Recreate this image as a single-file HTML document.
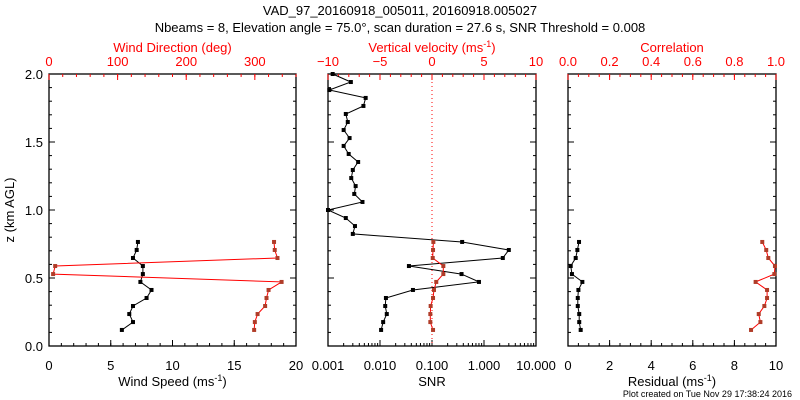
<!DOCTYPE html>
<html><head><meta charset="utf-8"><style>
body{margin:0;background:#fff;}
svg{display:block;font-family:"Liberation Sans",sans-serif;}
</style></head><body>
<svg id="c" width="800" height="400" viewBox="0 0 800 400">
<rect width="800" height="400" fill="#fff"/>
<text x="400" y="15" font-size="13" text-anchor="middle">VAD_97_20160918_005011, 20160918.005027</text>
<text x="400" y="32" font-size="13" text-anchor="middle">Nbeams = 8, Elevation angle = 75.0°, scan duration = 27.6 s, SNR Threshold = 0.008</text>
<text x="792" y="397" font-size="9" text-anchor="end">Plot created on Tue Nov 29 17:38:24 2016</text>
<g id="g"></g>
</svg>
<script>
// ---- data ----
const windHeights = [0.118,0.176,0.235,0.294,0.353,0.412,0.471,0.529,0.588,0.647,0.706,0.765];
const windSpeed = [5.9,6.8,6.5,6.8,7.9,8.3,7.4,7.6,7.6,6.8,7.1,7.2];
const windDir = [299,300,304,315,317,320,339,6,9,333,329,328];
const vertVel = [0.1,-0.16,-0.16,-0.13,0.1,0.19,0.41,1.09,1.09,0.07,0.1,0.13];
const residual = [0.61,0.54,0.54,0.47,0.47,0.5,0.69,0.19,0.13,0.37,0.45,0.53];
const correlation = [0.88,0.925,0.917,0.944,0.957,0.957,0.902,0.992,0.995,0.963,0.953,0.934];
const snrHeights = [0.118,0.176,0.235,0.294,0.353,0.412,0.471,0.529,0.588,0.647,0.706,0.765,0.824,0.882,0.941,1.0,1.059,1.118,1.176,1.235,1.294,1.353,1.412,1.471,1.529,1.588,1.647,1.706,1.765,1.824,1.882,1.941,2.0];
const snr = [0.0105,0.0115,0.0135,0.0126,0.013,0.043,0.8,0.37,0.036,2.3,3.0,0.38,0.0030,0.0033,0.0022,0.0010,0.0046,0.0032,0.0034,0.0028,0.0030,0.0038,0.0025,0.0020,0.0026,0.0020,0.0024,0.0022,0.0048,0.0053,0.00106,0.00275,0.00123];
const yTicks = [0.0,0.5,1.0,1.5,2.0];
const yTickLabels = ["0.0","0.5","1.0","1.5","2.0"];
const speedTicks = [0,5,10,15,20];
const dirTicks = [0,100,200,300];
const snrTicks = [0.001,0.01,0.1,1,10];
const snrTickLabels = ["0.001","0.010","0.100","1.000","10.000"];
const wTicks = [-10,-5,0,5,10];
const resTicks = [0,2,4,6,8,10];
const corrTicks = [0,0.2,0.4,0.6,0.8,1.0];
const corrTickLabels = ["0.0","0.2","0.4","0.6","0.8","1.0"];

const NS="http://www.w3.org/2000/svg", G=document.getElementById('g');
const Y0=346, Y1=74;
const yS = z => Y0 + (Y1-Y0)*z/2;
function el(t,a,p){const e=document.createElementNS(NS,t);for(const k in a)e.setAttribute(k,a[k]);(p||G).appendChild(e);return e;}
function lin(d0,d1,r0,r1){return v=>r0+(v-d0)/(d1-d0)*(r1-r0);}
function logS(d0,d1,r0,r1){return v=>r0+(Math.log10(v)-Math.log10(d0))/(Math.log10(d1)-Math.log10(d0))*(r1-r0);}
const RED="#ff0000", BRN="#b03c28";

function frame(x0,x1,name){
  const r=el('rect',{x:x0,y:Y1,width:x1-x0,height:Y0-Y1,fill:'none',stroke:'#000','stroke-width':1.3});
  
  
  for(let z=0;z<=2.0001;z+=0.1){
    const major=Math.abs(z*2-Math.round(z*2))<1e-6, L=major?6:3, y=yS(z);
    el('line',{x1:x0,x2:x0+L,y1:y,y2:y,stroke:'#000'});
    el('line',{x1:x1,x2:x1-L,y1:y,y2:y,stroke:'#000'});
  }
}
function xAxis(scale,ticks,labels,minors,top,color,title,name,x0,x1){
  const y=top?Y1:Y0, dir=top?1:-1;
  ticks.forEach((t,i)=>{
    el('line',{x1:scale(t),x2:scale(t),y1:y,y2:y+dir*6,stroke:color});
    const tx=el('text',{x:scale(t),y:top?66:370,'font-size':13,'text-anchor':'middle',fill:color});
    tx.textContent=labels[i];
    
    
  });
  minors.forEach(m=>{const x=scale(m); if(x>=x0-0.5&&x<=x1+0.5) el('line',{x1:x,x2:x,y1:y,y2:y+dir*3,stroke:color});});
  const t=el('text',{x:(x0+x1)/2,y:top?52:386,'font-size':13,'text-anchor':'middle',fill:color});
  t.innerHTML=title;
  
  
}
function series(xs,zs,xscale,lc,mc,name){
  const pts=xs.map((v,i)=>xscale(v).toFixed(1)+','+yS(zs[i]).toFixed(1)).join(' ');
  const pl=el('polyline',{points:pts,fill:'none',stroke:lc,'stroke-width':1});
  
  
  xs.forEach((v,i)=>{
    const r=el('rect',{x:xscale(v)-2,y:yS(zs[i])-2,width:4,height:4,fill:mc});
    
    
  });
}
function range(a,b,s){const o=[];for(let v=a;v<=b+1e-9;v+=s)o.push(+v.toFixed(4));return o;}
const sup='(ms<tspan dy="-5" font-size="9">-1</tspan><tspan dy="5">)</tspan>';

// Panel 1
const P1=[49,296];
const xSpeed=lin(0,20,P1[0],P1[1]), xDir=lin(0,360,P1[0],P1[1]);
frame(P1[0],P1[1],'wind-panel');
xAxis(xSpeed,speedTicks,speedTicks.map(String),range(0,20,1),false,'#000','Wind Speed '+sup,'wind-speed-axis',P1[0],P1[1]);
xAxis(xDir,dirTicks,dirTicks.map(String),range(0,360,20),true,RED,'Wind Direction (deg)','wind-direction-axis',P1[0],P1[1]);
yTicks.forEach((t,i)=>{const tx=el('text',{x:43,y:yS(t)+5,'font-size':13,'text-anchor':'end'});tx.textContent=yTickLabels[i];
  
  });
const yt=el('text',{x:14,y:210,'font-size':13,'text-anchor':'middle',transform:'rotate(-90 14 210)'});yt.textContent='z (km AGL)';


series(windSpeed,windHeights,xSpeed,'#000','#000','wind-speed');
series(windDir,windHeights,xDir,RED,BRN,'wind-direction');

// Panel 2
const P2=[328,536];
const xSnr=logS(0.001,10,P2[0],P2[1]), xW=lin(-10,10,P2[0],P2[1]);
frame(P2[0],P2[1],'snr-panel');
const snrMinor=[];[0.001,0.01,0.1,1].forEach(d=>{for(let k=2;k<=9;k++)snrMinor.push(d*k);});
xAxis(xSnr,snrTicks,snrTickLabels,snrMinor,false,'#000','SNR','snr-axis',P2[0],P2[1]);
xAxis(xW,wTicks,wTicks.map(v=>v<0?'\u2212'+(-v):String(v)),range(-10,10,1),true,RED,'Vertical velocity '+sup,'vertical-velocity-axis',P2[0],P2[1]);
const zl=el('line',{x1:xW(0),x2:xW(0),y1:Y1,y2:Y0,stroke:RED,'stroke-dasharray':'1,3'});


series(snr,snrHeights,xSnr,'#000','#000','snr');
series(vertVel,windHeights,xW,RED,BRN,'vertical-velocity');

// Panel 3
const P3=[568,776];
const xRes=lin(0,10,P3[0],P3[1]), xCor=lin(0,1,P3[0],P3[1]);
frame(P3[0],P3[1],'residual-panel');
xAxis(xRes,resTicks,resTicks.map(String),range(0,10,0.5),false,'#000','Residual '+sup,'residual-axis',P3[0],P3[1]);
xAxis(xCor,corrTicks,corrTickLabels,range(0,1,0.05),true,RED,'Correlation','correlation-axis',P3[0],P3[1]);
series(residual,windHeights,xRes,'#000','#000','residual');
series(correlation,windHeights,xCor,RED,BRN,'correlation');
</script>
</body></html>
